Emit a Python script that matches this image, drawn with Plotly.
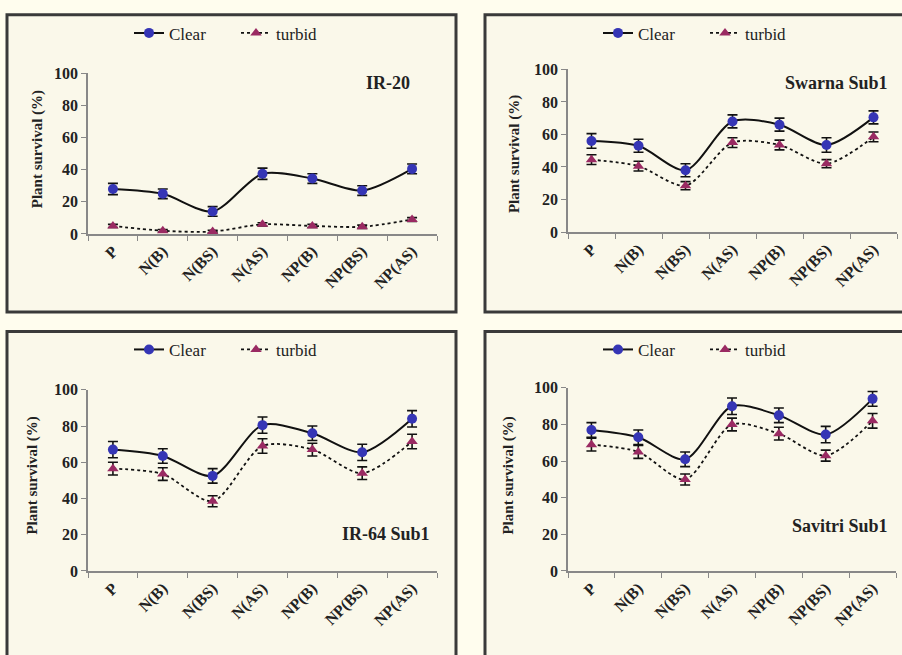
import plotly.graph_objects as go

W, H = 902, 655

# Treatment categories on the x axis
categories = ["P", "N(B)", "N(BS)", "N(AS)", "NP(B)", "NP(BS)", "NP(AS)"]

# Plant survival (%) per variety
ir20_clear = [28, 25, 14, 37.5, 34.5, 27, 40.5]
ir20_turbid = [5, 2, 1.5, 6, 5, 4.5, 9]
ir20_clear_err = [3.5, 3, 3, 3.5, 3, 3, 3]
ir20_turbid_err = [1, 0.8, 0.8, 1, 1, 1, 1.2]

swarna_clear = [56, 53, 38, 68, 66, 53.5, 70.5]
swarna_turbid = [44.5, 40.5, 28.5, 55, 53.5, 42, 58.5]
swarna_clear_err = [4.5, 4, 4, 4, 4, 4.5, 4]
swarna_turbid_err = [3, 3, 2.5, 3, 3, 2.5, 3]

ir64_clear = [67, 63.5, 52.5, 80.5, 76, 65.5, 84]
ir64_turbid = [56.5, 53.5, 38.5, 69, 67, 54, 71.5]
ir64_clear_err = [4.5, 4, 4, 4.5, 4, 4.5, 4.5]
ir64_turbid_err = [3.5, 3.5, 3, 4, 3.5, 3.5, 4]

savitri_clear = [77, 73, 61, 90, 85, 74.5, 94]
savitri_turbid = [69, 65, 50, 80, 75, 63, 82]
savitri_clear_err = [4, 4, 4, 4.5, 4, 4.5, 4]
savitri_turbid_err = [3.5, 3.5, 3, 3.5, 3.5, 3, 4]

y_ticks = [0, 20, 40, 60, 80, 100]

CLEAR_COLOR = "#3535b5"
TURBID_COLOR = "#9a2a62"
SERIF = "Liberation Serif, Times New Roman, serif"


def fx(px):
    return px / W


def fy(py):
    return 1 - py / H


# (name, clear, turbid, clear_err, turbid_err,
#  plot box (x0, x1, y_top, y_bottom), frame box, label pos, ytitle pos, legend pos)
panels = [
    ("IR-20", ir20_clear, ir20_turbid, ir20_clear_err, ir20_turbid_err,
     (88, 437, 67, 232), (7, 456, 7, 312), (412, 77), (37, 145), (236, 26)),
    ("Swarna Sub1", swarna_clear, swarna_turbid, swarna_clear_err, swarna_turbid_err,
     (568, 897, 63, 230), (485, 910, 7, 312), (890, 77), (514, 150), (705, 26)),
    ("IR-64 Sub1", ir64_clear, ir64_turbid, ir64_clear_err, ir64_turbid_err,
     (88, 437, 392, 578), (7, 456, 332, 670), (432, 540), (33, 480), (236, 351)),
    ("Savitri Sub1", savitri_clear, savitri_turbid, savitri_clear_err, savitri_turbid_err,
     (568, 896, 390, 578), (485, 910, 332, 670), (890, 532), (509, 480), (705, 351)),
]

fig = go.Figure()
layout = dict(
    width=W, height=H,
    margin=dict(l=0, r=0, t=0, b=0),
    paper_bgcolor="#fffdee",
    plot_bgcolor="rgba(0,0,0,0)",
    font=dict(family=SERIF, color="#111111"),
    shapes=[], annotations=[],
)

tick_font = dict(family=SERIF, size=16, weight="bold", color="#222222")

for i, (name, clear, turbid, cerr, terr, box, frame, lab, ytl, leg) in enumerate(panels):
    n = "" if i == 0 else str(i + 1)
    xa, ya = "x" + n, "y" + n
    legend_id = "legend" + n

    # panel frame
    layout["shapes"].append(dict(
        type="rect", xref="paper", yref="paper", layer="below",
        x0=fx(frame[0]), x1=fx(frame[1]), y0=fy(frame[3]), y1=fy(frame[2]),
        fillcolor="#faf8ea", line=dict(color="#3a3a3a", width=3),
    ))

    fig.add_trace(go.Scatter(
        x=categories, y=clear, name="Clear", xaxis=xa, yaxis=ya,
        mode="lines+markers", line=dict(color="#111111", width=2, shape="spline", smoothing=0.8),
        marker=dict(symbol="circle", size=10, color=CLEAR_COLOR),
        error_y=dict(type="data", array=cerr, color="#111111", thickness=1.6, width=5),
        cliponaxis=False, legend=legend_id,
    ))
    fig.add_trace(go.Scatter(
        x=categories, y=turbid, name="turbid", xaxis=xa, yaxis=ya,
        mode="lines+markers", line=dict(color="#111111", width=1.8, dash="dot", shape="spline", smoothing=0.8),
        marker=dict(symbol="triangle-up", size=10, color=TURBID_COLOR),
        error_y=dict(type="data", array=terr, color="#111111", thickness=1.6, width=5),
        cliponaxis=False, legend=legend_id,
    ))

    x0, x1, yt, yb = box
    layout["xaxis" + n] = dict(
        domain=[fx(x0), fx(x1)], anchor=ya, type="category",
        categoryorder="array", categoryarray=categories, range=[-0.5, 6.5],
        tickangle=-45, ticks="outside", tickson="boundaries", ticklen=5,
        tickcolor="#888888", showline=True, linecolor="#888888", linewidth=1.5,
        showgrid=False, zeroline=False, tickfont=tick_font,
    )
    layout["yaxis" + n] = dict(
        domain=[fy(yb), fy(yt)], anchor=xa, range=[0, 100], tickvals=y_ticks,
        ticks="outside", ticklen=5, tickcolor="#888888",
        showline=True, linecolor="#888888", linewidth=1.5,
        showgrid=False, zeroline=False, tickfont=tick_font,
    )
    layout[legend_id] = dict(
        x=fx(leg[0]), y=fy(leg[1]), xanchor="center", yanchor="middle",
        orientation="h", bgcolor="rgba(0,0,0,0)",
        font=dict(family=SERIF, size=17, color="#222222"),
        entrywidth=62, entrywidthmode="pixels", tracegroupgap=0,
    )
    layout["annotations"].append(dict(
        text="<b>%s</b>" % name, xref="paper", yref="paper",
        x=fx(lab[0]), y=fy(lab[1]), xanchor="right", yanchor="middle",
        showarrow=False, font=dict(family=SERIF, size=18, color="#222222"),
    ))
    layout["annotations"].append(dict(
        text="Plant survival (%)", xref="paper", yref="paper",
        x=fx(ytl[0]), y=fy(ytl[1]), xanchor="center", yanchor="middle",
        textangle=-90, showarrow=False,
        font=dict(family=SERIF, size=15, weight="bold", color="#222222"),
    ))

fig.update_layout(**layout)
fig.write_html("out.html")
